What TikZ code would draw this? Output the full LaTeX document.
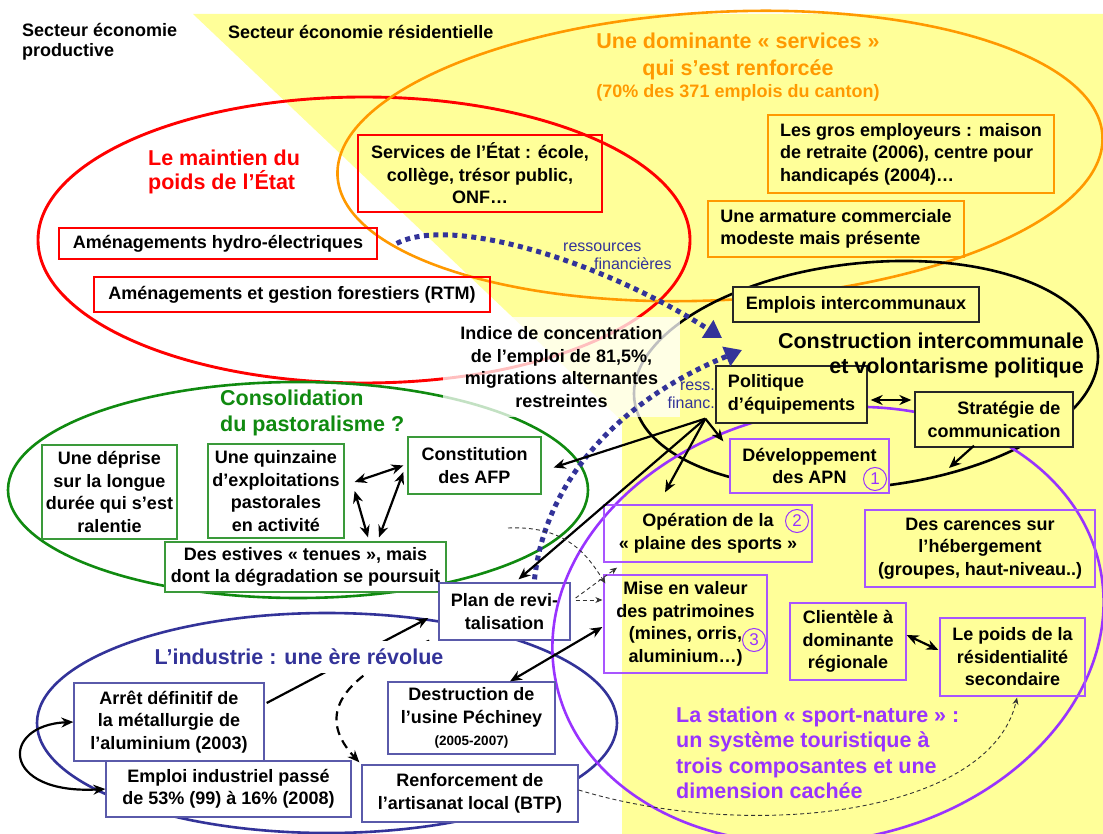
\documentclass[tikz,border=0pt]{standalone}
\usepackage{fontspec}
\setmainfont{Liberation Sans}
\usetikzlibrary{arrows.meta}
\definecolor{bgyel}{HTML}{FFFF99}
\definecolor{corange}{HTML}{FF9900}
\definecolor{cred}{HTML}{FF0000}
\definecolor{cgreen}{HTML}{108A10}
\definecolor{cgreenb}{HTML}{3A9A3A}
\definecolor{cnavy}{HTML}{333399}
\definecolor{cnavyb}{HTML}{5A5AAA}
\definecolor{cpurple}{HTML}{9933FF}
\definecolor{cpurpleb}{HTML}{A855FF}
\begin{document}
\begin{tikzpicture}[x=1pt,y=-1pt,
  every node/.style={inner sep=0pt},
  fb/.style={font=\fontsize{18}{22.5}\selectfont\bfseries},
  ft/.style={font=\fontsize{21.5}{25.5}\selectfont\bfseries},
  box/.style={fb, draw, line width=1.3pt, align=center},
  ell/.style={line width=2.6pt},
  circ/.style={circle, draw=cpurple, line width=1pt, minimum size=23pt, text=cpurple, font=\fontsize{17}{17}\selectfont},
  arr/.style={line width=2.2pt, -{Stealth[length=12pt,width=10pt]}},
  darr/.style={line width=2.2pt, {Stealth[length=12pt,width=10pt]}-{Stealth[length=12pt,width=10pt]}},
  dotarr/.style={cnavy, line width=5pt, dash pattern=on 5pt off 4.5pt, -{Triangle[length=17pt,width=20pt]}},
  thdash/.style={line width=2.2pt, dash pattern=on 9pt off 6pt, -{Stealth[length=12pt,width=10pt]}},
  tndash/.style={black!80, line width=0.9pt, dash pattern=on 4pt off 3pt, -{Stealth[length=7pt,width=6pt]}},
  purpell/.style={ell, cpurple, rotate around={12:(828,625)}}
]
\useasboundingbox (0,0) rectangle (1103,834);
\fill[white] (0,0) rectangle (1103,834);
% yellow sector
\fill[bgyel] (193,14) -- (1103,14) -- (1103,834) -- (622,834) -- (622,421) -- cycle;

% ellipses
\draw[ell, cred, line width=2.9pt] (364,240) ellipse [x radius=326pt, y radius=143pt];
\draw[ell, corange, rotate around={3:(720,156)}] (720,156) ellipse [x radius=383pt, y radius=144pt];
\draw[ell, black, rotate around={6:(866,375)}] (866,375) ellipse [x radius=233pt, y radius=112pt];
\draw[ell, cgreen] (298,490) ellipse [x radius=290pt, y radius=108pt];
\draw[ell, cnavy] (327,723) ellipse [x radius=290pt, y radius=110pt];
\draw[purpell] (828,625) ellipse [x radius=278pt, y radius=215pt];

% concentration note on translucent white
\node[fb, align=center, fill=white, fill opacity=0.75, text opacity=1, minimum width=237pt, minimum height=100pt] (indice) at (561.5,367) {Indice de concentration\\de l’emploi de 81,5\%,\\migrations alternantes\\restreintes};

% red boxes
\node[box, draw=cred, minimum width=244pt, minimum height=77pt] (serv) at (480,173.5) {Services de l’État : école,\\collège, trésor public,\\ONF…};
\node[box, draw=cred, minimum width=318pt, minimum height=31pt] (hydro) at (218,243.5) {Aménagements hydro-électriques};
\node[box, draw=cred, minimum width=396pt, minimum height=35pt] (rtm) at (292,294.5) {Aménagements et gestion forestiers (RTM)};
% orange boxes
\node[box, draw=corange, align=left, minimum width=286pt, minimum height=78pt] (gros) at (911,154) {Les gros employeurs : maison\\de retraite (2006), centre pour\\handicapés (2004)…};
\node[box, draw=corange, align=left, minimum width=256pt, minimum height=56pt] (arma) at (836,229) {Une armature commerciale\\modeste mais présente};
% black boxes
\node[box, draw=black!85, fill=bgyel, minimum width=246pt, minimum height=35pt] (empl) at (856,304.5) {Emplois intercommunaux};
\node[box, draw=black!85, fill=bgyel, align=left, minimum width=151pt, minimum height=57pt] (poli) at (791.5,394.5) {Politique\\d’équipements};
\node[box, draw=black!85, fill=bgyel, align=right, minimum width=158pt, minimum height=55pt] (strat) at (994,419.5) {Stratégie de\\communication};
% purple boxes
\node[box, draw=cpurpleb, fill=bgyel, minimum width=159pt, minimum height=54pt] (dev) at (809.5,466) {Développement\\des APN};
\node[box, draw=cpurpleb, minimum width=208pt, minimum height=57pt] (oper) at (708,533.5) {Opération de la\\«~plaine des sports~»};
\node[box, draw=cpurpleb, minimum width=163pt, minimum height=98pt] (mise) at (685.5,624) {Mise en valeur\\des patrimoines\\(mines, orris,\\aluminium…)};
\node[box, draw=cpurpleb, minimum width=230pt, minimum height=77pt] (car) at (980,548.5) {Des carences sur\\l’hébergement\\(groupes, haut-niveau..)};
\node[box, draw=cpurpleb, minimum width=116pt, minimum height=77pt] (cli) at (848,641.5) {Clientèle à\\dominante\\régionale};
\node[box, draw=cpurpleb, minimum width=145pt, minimum height=78pt] (poids) at (1012.5,657) {Le poids de la\\résidentialité\\secondaire};
% green boxes
\node[box, draw=cgreenb, fill=white, minimum width=135pt, minimum height=94pt] (depr) at (109.5,492) {Une déprise\\sur la longue\\durée qui s’est\\ralentie};
\node[box, draw=cgreenb, fill=white, minimum width=136pt, minimum height=94pt] (quin) at (276,491) {Une quinzaine\\d’exploitations\\pastorales\\en activité};
\node[box, draw=cgreenb, fill=white, minimum width=133pt, minimum height=57pt] (afp) at (474.5,465.5) {Constitution\\des AFP};
\node[box, draw=cgreenb, fill=white, minimum width=281pt, minimum height=50pt] (est) at (305.5,567) {Des estives «~tenues~», mais\\dont la dégradation se poursuit};
% navy boxes
\node[box, draw=cnavyb, fill=white, minimum width=131pt, minimum height=57pt] (plan) at (504.5,611.5) {Plan de revi-\\talisation};
\node[box, draw=cnavyb, fill=white, minimum width=190pt, minimum height=78pt] (arret) at (169,722) {Arrêt définitif de\\la métallurgie de\\l’aluminium (2003)};
\node[box, draw=cnavyb, fill=white, minimum width=245pt, minimum height=56pt] (emploi) at (228.5,789) {Emploi industriel passé\\de 53\% (99) à 16\% (2008)};
\node[box, draw=cnavyb, fill=white, minimum width=167pt, minimum height=72pt] (destr) at (471.5,718) {Destruction de\\l’usine Péchiney\\{\fontsize{13.5}{15}\selectfont (2005-2007)}};
\node[box, draw=cnavyb, fill=white, minimum width=216pt, minimum height=57pt] (renf) at (470,793.5) {Renforcement de\\l’artisanat local (BTP)};

% the purple ellipse shows through the revitalisation box
\begin{scope}
\clip (plan.south west) rectangle (plan.north east);
\draw[purpell] (828,625) ellipse [x radius=278pt, y radius=215pt];
\end{scope}

% titles and labels
\node[fb, align=left, anchor=west, font=\fontsize{18}{20.5}\selectfont\bfseries] (secprod) at (22,42) {Secteur économie\\productive};
\node[fb, anchor=west] (secres) at (228,32) {Secteur économie résidentielle};
\node[ft, align=center, text=corange, font=\fontsize{21.5}{27}\selectfont\bfseries] (otitle) at (738,56.5) {Une dominante «~services~»\\qui s’est renforcée};
\node[fb, text=corange] (osub) at (738,93) {(70\% des 371 emplois du canton)};
\node[ft, align=left, anchor=west, text=cred, font=\fontsize{21.5}{24.5}\selectfont\bfseries] (rtitle) at (148,172) {Le maintien du\\poids de l’État};
\node[ft, align=left, anchor=west, text=cgreen] (gtitle) at (220,413) {Consolidation\\du pastoralisme ?};
\node[ft, align=right, anchor=east] (ktitle) at (1084,355.5) {Construction intercommunale\\et volontarisme politique};
\node[ft, align=left, anchor=west, text=cpurple] (ptitle) at (676,753) {La station «~sport-nature~» :\\un système touristique à\\trois composantes et une\\dimension cachée};
\node[align=left, anchor=west, text=cnavy, font=\fontsize{16}{18}\selectfont] (resfin) at (563,256) {ressources\\\hspace*{31pt}financières};
\node[align=right, anchor=east, text=cnavy, font=\fontsize{16}{17.5}\selectfont] (resfin2) at (715,395.5) {ress.\\financ.};
\node[circ] (c1) at (875,479) {1};
\node[circ] (c2) at (797,521) {2};
\node[circ] (c3) at (754,640) {3};

% free ends
\coordinate (F) at ([xshift=-10pt,yshift=5pt]poli.south west);
\coordinate (tipA) at (722,338);
\coordinate (tipB) at (742,350);
\coordinate (tipS) at (949,468);
\coordinate (dstart) at (508,528);

% thick dotted financial flows
\draw[dotarr] ([xshift=19pt]hydro.east) .. controls (450,215) and (600,260) .. (tipA);
\draw[dotarr] ([xshift=30pt,yshift=3pt]plan.north) .. controls (545,480) and (620,400) .. (tipB);

% black arrows
\draw[arr] (F) -- ([xshift=12pt,yshift=-2pt]afp.east);
\draw[arr] (F) -- ([xshift=14pt,yshift=3pt]plan.north);
\draw[arr] (F) -- ([xshift=-43pt,yshift=12pt]oper.north);
\draw[arr] (F) -- ([xshift=-6pt,yshift=-3pt]dev.north west);
\draw[darr] ([xshift=3pt,yshift=-5.5pt]poli.east) -- ([xshift=-3pt,yshift=19.5pt]strat.west);
\draw[arr] ([xshift=-20pt,yshift=2pt]strat.south) -- (tipS);
\draw[darr] ([xshift=10pt,yshift=9pt]quin.east) -- ([xshift=-4pt]afp.west);
\draw[darr] ([xshift=10pt]quin.east) -- ([xshift=62.5pt,yshift=4pt]est.north);
\draw[darr] ([xshift=-4pt,yshift=-6.5pt]afp.west) -- ([xshift=73.5pt,yshift=4pt]est.north);
\draw[darr] ([yshift=6.5pt]cli.east) -- ([xshift=-1pt,yshift=7pt]poids.west);
\draw[darr] ([xshift=38.5pt]destr.north) -- ([xshift=-1pt,yshift=-3pt]mise.west);
\draw[arr] ([xshift=2pt,yshift=19pt]arret.east) -- ([xshift=-10pt,yshift=-6.5pt]plan.west);
\draw[darr] (arret.west) .. controls (0,725) and (0,795) .. (emploi.west);
\draw[thdash] ([xshift=-9pt]plan.south west) .. controls (330,680) and (320,720) .. ([xshift=-2pt,yshift=2pt]renf.north west);

% thin dashed arrows
\draw[tndash] (dstart) .. controls (570,525) and (590,560) .. ([xshift=2pt,yshift=-9pt]mise.north west);
\draw[tndash] ([xshift=5pt,yshift=13.5pt]plan.east) -- ([xshift=-91pt,yshift=-5pt]oper.south);
\draw[tndash] ([xshift=5pt,yshift=11.5pt]plan.east) -- ([xshift=-1pt,yshift=24pt]mise.west);
\draw[tndash] ([yshift=3.5pt]renf.east) .. controls (750,842) and (990,815) .. ([xshift=4.5pt,yshift=-1pt]poids.south);

% industry title on top (hides crossing lines)
\node[ft, text=cnavy, fill=white, inner xsep=3pt, inner ysep=8pt] (ntitle) at (299,657) {L’industrie : une ère révolue};
\end{tikzpicture}
\end{document}
